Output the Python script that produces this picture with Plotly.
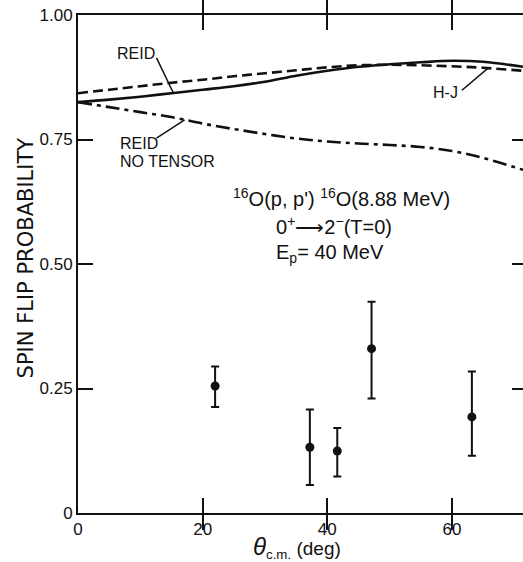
import numpy as np
import plotly.graph_objects as go

# ---------------- data ----------------
theta_curve = [0, 5, 10, 15, 20, 25, 30, 35, 40, 45, 50, 55, 60, 65, 71.4]
reid = [0.825, 0.830, 0.836, 0.843, 0.850, 0.857, 0.866, 0.878, 0.888, 0.896, 0.901, 0.905, 0.908, 0.906, 0.896]
hj = [0.843, 0.850, 0.857, 0.864, 0.870, 0.877, 0.883, 0.889, 0.895, 0.899, 0.900, 0.899, 0.897, 0.894, 0.888]
reid_no_tensor = [0.825, 0.815, 0.805, 0.795, 0.782, 0.771, 0.761, 0.752, 0.746, 0.742, 0.739, 0.735, 0.727, 0.713, 0.689]

theta_data = [22.0, 37.2, 41.6, 47.1, 63.2]
sfp = [0.255, 0.132, 0.1245, 0.330, 0.193]
err_plus = [0.039, 0.076, 0.046, 0.094, 0.091]
err_minus = [0.042, 0.076, 0.051, 0.100, 0.078]

x_ticks = [0, 20, 40, 60]
x_ticktext = ["0", "20", "40", "60"]
y_ticks = [0, 0.25, 0.5, 0.75, 1.0]
y_ticktext = ["0", "0.25", "0.50", "0.75", "1.00"]

X_RANGE = [0, 71.4]
Y_RANGE = [0, 1.0]

INK = "#111111"
FONT = "Liberation Sans, Arial, sans-serif"
WIDE = "DejaVu Sans, sans-serif"

fig = go.Figure()

fig.add_trace(go.Scatter(x=theta_curve, y=hj, mode="lines",
                         line=dict(color=INK, width=2.6, dash="10px,5px", shape="spline"),
                         showlegend=False, hoverinfo="skip"))
fig.add_trace(go.Scatter(x=theta_curve, y=reid, mode="lines",
                         line=dict(color=INK, width=2.6, shape="spline"),
                         showlegend=False, hoverinfo="skip"))
fig.add_trace(go.Scatter(x=theta_curve, y=reid_no_tensor, mode="lines",
                         line=dict(color=INK, width=2.6, dash="14px,5px,4px,5px", shape="spline"),
                         showlegend=False, hoverinfo="skip"))

fig.add_trace(go.Scatter(x=theta_data, y=sfp, mode="markers",
                         marker=dict(color=INK, size=9),
                         error_y=dict(type="data", symmetric=False, array=err_plus,
                                      arrayminus=err_minus, color=INK, thickness=2, width=4),
                         showlegend=False))

# invisible trace for right-side tick axis
fig.add_trace(go.Scatter(x=[None], y=[None], yaxis="y2", showlegend=False, hoverinfo="skip"))

# pointer lines (from label to curve)
def pt(xs, ys, xv):
    return float(np.interp(xv, xs, ys))

pointers = [
    (12.6, 0.914, 15.3, pt(theta_curve, reid, 15.3)),
    (12.6, 0.753, 17.1, pt(theta_curve, reid_no_tensor, 17.1)),
    (61.6, 0.849, 65.8, pt(theta_curve, hj, 65.8)),
]
for x0, y0, x1, y1 in pointers:
    fig.add_shape(type="line", x0=x0, y0=y0, x1=x1, y1=y1, xref="x", yref="y",
                  line=dict(color=INK, width=1.5))

lab = dict(family=FONT, size=16, color=INK)
big = dict(family=FONT, size=20, color=INK)
anns = [
    dict(x=9.24, y=0.922, text="REID", xanchor="center", yanchor="middle", font=lab),
    dict(x=6.35, y=0.741, text="REID", xanchor="left", yanchor="middle", font=lab),
    dict(x=6.35, y=0.706, text="NO TENSOR", xanchor="left", yanchor="middle", font=lab),
    dict(x=58.9, y=0.845, text="H-J", xanchor="center", yanchor="middle", font=lab),
    dict(x=24.6, y=0.634, text="<sup>16</sup>O(p, p') <sup>16</sup>O(8.88 MeV)",
         xanchor="left", yanchor="middle", font=big),
    dict(x=31.4, y=0.578, text="0<sup>+</sup>\u27f62<sup>\u2212</sup>(T=0)",
         xanchor="left", yanchor="middle", font=big),
    dict(x=31.4, y=0.521, text="E<sub>p</sub>= 40 MeV",
         xanchor="left", yanchor="middle", font=big),
]
for a in anns:
    fig.add_annotation(xref="x", yref="y", showarrow=False, **a)

# axis titles
fig.add_annotation(xref="paper", yref="paper", x=(297 - 78.5) / (523 - 78.5), y=-(547 - 513) / 498,
                   text="<span style='font-size:24px'><i>\u03b8</i></span><sub>c.m.</sub> (deg)",
                   showarrow=False,
                   xanchor="center", yanchor="middle", font=dict(family=FONT, size=19, color=INK))
fig.add_annotation(xref="paper", yref="paper", x=-(78.5 - 27) / (523 - 78.5), y=(513 - 258) / 498,
                   text="SPIN FLIP PROBABILITY", textangle=-90, showarrow=False,
                   xanchor="center", yanchor="middle", font=dict(family=WIDE, size=21, color=INK))

fig.update_layout(
    width=523, height=562,
    margin=dict(l=78, r=0, t=15, b=49),
    paper_bgcolor="white", plot_bgcolor="white",
    xaxis=dict(range=X_RANGE, tickvals=x_ticks, ticktext=x_ticktext,
               ticks="inside", ticklen=15, tickwidth=1.5, tickcolor=INK,
               showline=True, linecolor=INK, linewidth=2, mirror="allticks",
               showgrid=False, zeroline=False,
               tickfont=dict(family=FONT, size=17, color=INK)),
    yaxis=dict(range=Y_RANGE, tickvals=y_ticks, ticktext=y_ticktext,
               ticks="inside", ticklen=15, tickwidth=1.5, tickcolor=INK,
               showline=True, linecolor=INK, linewidth=2, mirror=False,
               showgrid=False, zeroline=False,
               tickfont=dict(family=FONT, size=17, color=INK)),
    yaxis2=dict(range=Y_RANGE, overlaying="y", side="right", anchor="x",
                tickvals=[0.25, 0.5, 0.75], ticks="inside", ticklen=11, tickwidth=1.5,
                tickcolor=INK, showticklabels=False, showline=False, showgrid=False,
                zeroline=False),
)

fig.write_html("out.html")
